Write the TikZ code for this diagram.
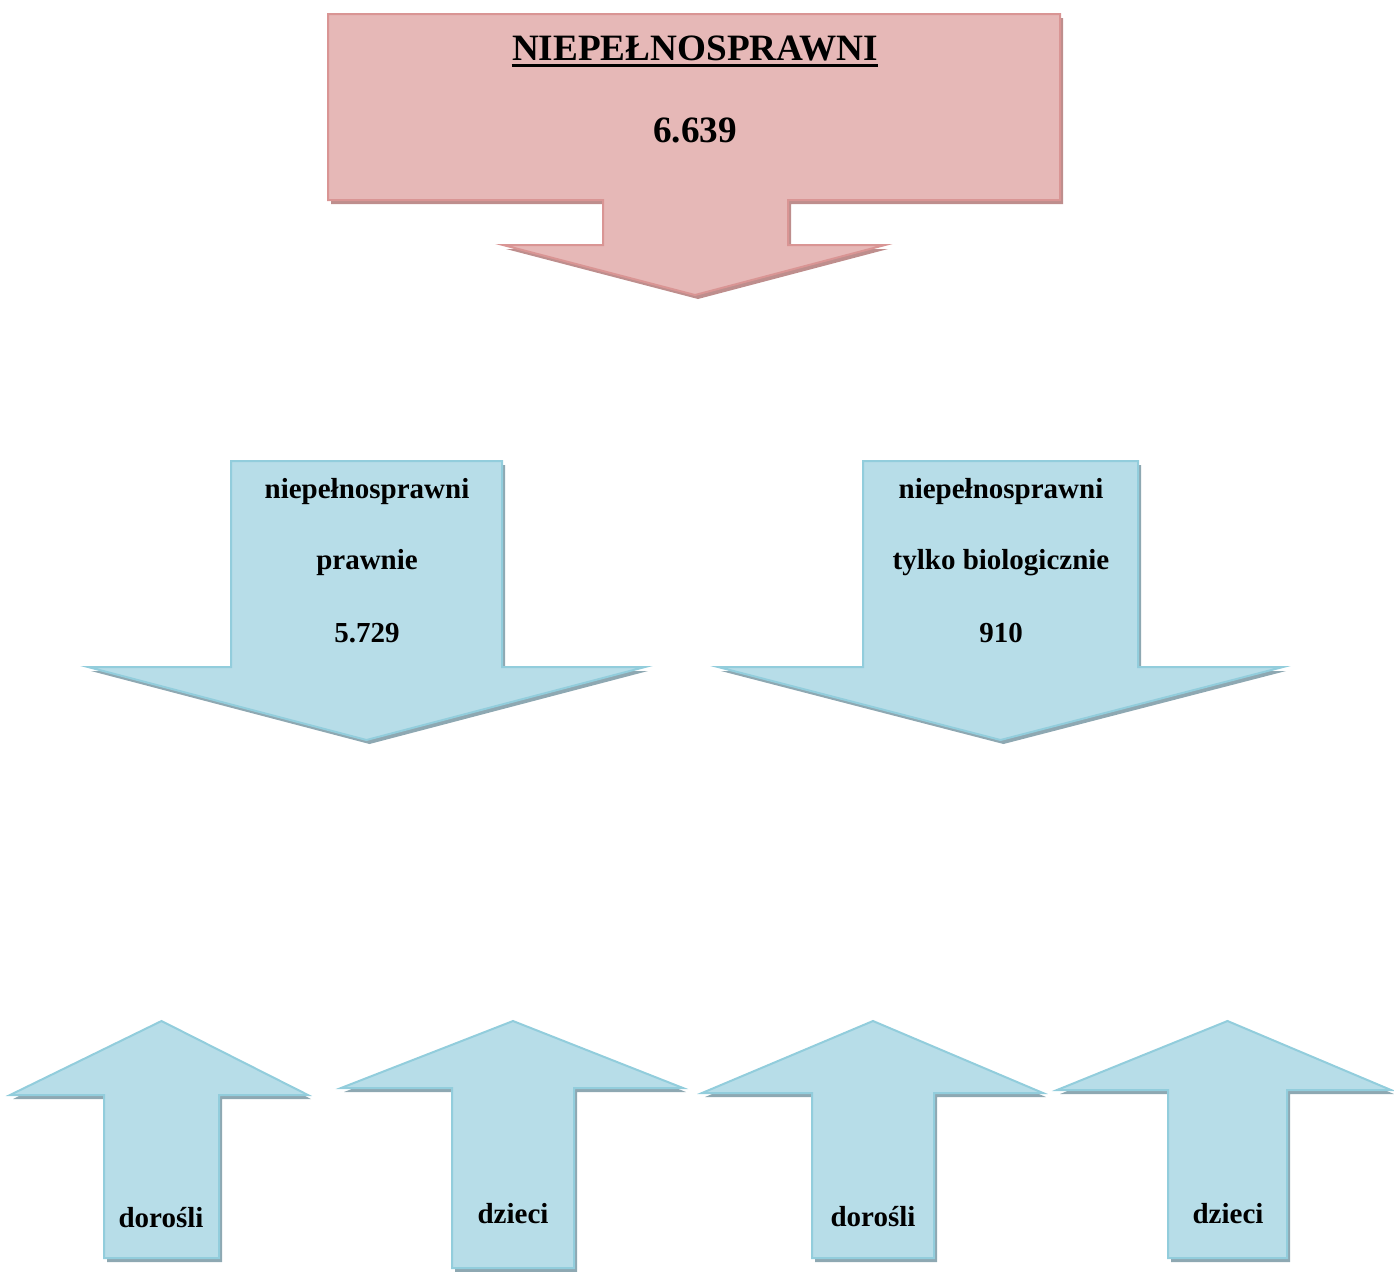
\documentclass[tikz,border=0pt]{standalone}
\usepackage{fontspec}
\setmainfont{Liberation Serif}
\usepackage{tikz}
\usetikzlibrary{positioning,calc}
\definecolor{pinkfill}{HTML}{E6B8B7}
\definecolor{pinkline}{HTML}{D99594}
\definecolor{pinkshade}{HTML}{BE8E8D}
\definecolor{bluefill}{HTML}{B7DDE8}
\definecolor{blueline}{HTML}{92CDDC}
\definecolor{blueshade}{HTML}{8EA8B2}
\tikzset{pinkbox/.style={fill=pinkfill,draw=pinkline,line width=1pt},
 pinkshadow/.style={fill=pinkshade,shift={(3,4)}},
 bluebox/.style={fill=bluefill,draw=blueline,line width=1pt},
 blueshadow/.style={fill=blueshade,shift={(3,4)}},
 biglabel/.style={font=\fontsize{18.6}{20}\selectfont\bfseries,inner sep=0pt},
 smalllabel/.style={font=\fontsize{14.5}{16}\selectfont\bfseries,inner sep=0pt}}
% down arrow: #1 style, stem #2..#3, top #4, neck #5, wings #6..#7, tip #8
\newcommand\dwnblock[8]{\path[#1] (#2,#4) -- (#3,#4) -- (#3,#5) -- (#7,#5)
 -- ({(#2+#3)/2},#8) -- (#6,#5) -- (#2,#5) -- cycle;}
% up arrow: #1 style, stem #2..#3, bottom #4, neck #5, wings #6..#7, tip #8
\newcommand\upblock[8]{\path[#1] (#2,#4) -- (#3,#4) -- (#3,#5) -- (#7,#5)
 -- ({(#2+#3)/2},#8) -- (#6,#5) -- (#2,#5) -- cycle;}
\begin{document}
\begin{tikzpicture}[x=0.5pt,y=-0.5pt]
\useasboundingbox (0,0) rectangle (1394,1271);

% top arrow
\foreach \sty in {pinkshadow,pinkbox}
 \path[\sty] (328,14) -- (1060,14) -- (1060,200) -- (788,200) -- (788,245)
  -- (885,245) -- (695,295) -- (503,245) -- (603,245) -- (603,200) -- (328,200) -- cycle;

% middle arrows
\foreach \sty/\sha in {bluebox/blueshadow}{
 \dwnblock{\sha}{231}{502}{461}{667}{88}{645}{740}
 \dwnblock{\sty}{231}{502}{461}{667}{88}{645}{740}
 \dwnblock{\sha}{863}{1138}{461}{667}{718}{1283}{740}
 \dwnblock{\sty}{863}{1138}{461}{667}{718}{1283}{740}
}

% bottom arrows
\foreach \xl/\xr/\yb/\yn/\wl/\wr in {104/219/1258/1095/10/308,452/574/1268/1088/341/683,
 812/934/1258/1093/702/1043,1168/1287/1258/1090/1057/1391}{
 \upblock{blueshadow}{\xl}{\xr}{\yb}{\yn}{\wl}{\wr}{1021}
 \upblock{bluebox}{\xl}{\xr}{\yb}{\yn}{\wl}{\wr}{1021}
}

\node[biglabel] (NP) at (695,48) {NIEPEŁNOSPRAWNI};
\draw[line width=1.5pt] ([yshift=-2.8pt]NP.base west) -- ([yshift=-2.8pt]NP.base east);
\node[biglabel] (NPN) at (695,130) {6.639};

\node[smalllabel] (LP1) at (367,492) {niepełnosprawni};
\node[smalllabel] (LP2) at (367,563) {prawnie};
\node[smalllabel] (LPN) at (367,633) {5.729};
\node[smalllabel] (BL1) at (1001,492) {niepełnosprawni};
\node[smalllabel] (BL2) at (1001,563) {tylko biologicznie};
\node[smalllabel] (BLN) at (1001,633) {910};

\node[smalllabel] (DO1) at (161,1218) {dorośli};
\node[smalllabel] (DZ1) at (513,1214) {dzieci};
\node[smalllabel] (DO2) at (873,1217) {dorośli};
\node[smalllabel] (DZ2) at (1228,1214) {dzieci};
\end{tikzpicture}
\end{document}
